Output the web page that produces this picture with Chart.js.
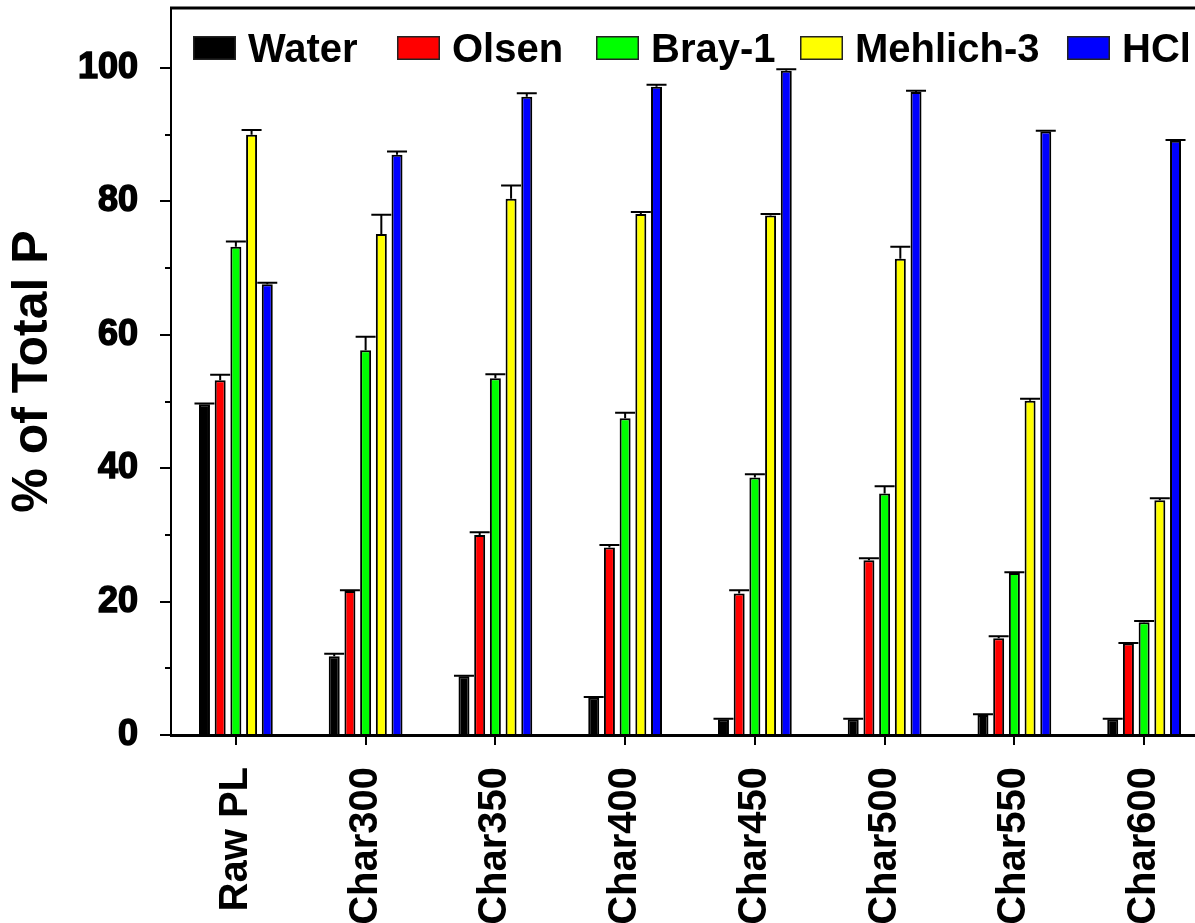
<!DOCTYPE html>
<html>
<head>
<meta charset="utf-8">
<script src="https://cdn.jsdelivr.net/npm/chart.js@4/dist/chart.umd.min.js"></script>
<style>
  html, body { margin: 0; padding: 0; background: #fff; overflow: hidden; }
  #wrap { width: 1195px; height: 923px; overflow: hidden; position: relative; }
  canvas { display: block; }
</style>
</head>
<body>
<div id="wrap"><canvas id="chart" width="1209" height="923"></canvas></div>
<script>
// Phosphorus extracted by each method, as % of total P, per material
const categories = ['Raw PL', 'Char300', 'Char350', 'Char400', 'Char450', 'Char500', 'Char550', 'Char600'];

const waterP      = [49.6, 11.8,  8.8,  5.6,  2.35, 2.35,  3.0,  2.35];
const waterErr    = [ 0.1,  0.4,  0.1,  0.1,  0.1,  0.1,   0.1,  0.1];
const olsenP      = [53.2, 21.6, 30.0, 28.1, 21.2, 26.2,  14.5, 13.7];
const olsenErr    = [ 0.8,  0.1,  0.4,  0.4,  0.5,  0.3,   0.3,  0.1];
const brayP       = [73.2, 57.7, 53.5, 47.5, 38.6, 36.2,  24.3, 16.9];
const brayErr     = [ 0.8,  2.0,  0.6,  0.8,  0.5,  1.1,   0.1,  0.2];
const mehlichP    = [90.0, 75.1, 80.4, 78.1, 77.9, 71.4,  50.1, 35.2];
const mehlichErr  = [ 0.7,  2.9,  2.0,  0.3,  0.2,  1.8,   0.3,  0.3];
const hclP        = [67.6, 87.0, 95.7, 97.2, 99.6, 96.4,  90.5, 89.1];
const hclErr      = [ 0.2,  0.5,  0.5,  0.3,  0.2,  0.2,   0.1,  0.1];

const seriesNames  = ['Water', 'Olsen', 'Bray-1', 'Mehlich-3', 'HCl'];
const seriesColors = ['#000000', '#FF0000', '#00FF00', '#FFFF00', '#0000FF'];
const seriesValues = [waterP, olsenP, brayP, mehlichP, hclP];
const seriesErrors = [waterErr, olsenErr, brayErr, mehlichErr, hclErr];

const yTickValues = [0, 20, 40, 60, 80, 100];
const yMinorTicks = [10, 30, 50, 70, 90];

// legend swatch left edges along the top row
const legendBoxX = [193, 397, 596, 800, 1067];

const FONT = "'Liberation Sans', Arial, Helvetica, sans-serif";

// Upward-only error bars with caps, drawn on top of each bar
const errorBarPlugin = {
  id: 'errorBars',
  afterDatasetsDraw(chart) {
    const ctx = chart.ctx;
    const yScale = chart.scales.y;
    ctx.save();
    ctx.strokeStyle = '#000';
    ctx.lineWidth = 2;
    chart.data.datasets.forEach((ds, i) => {
      const meta = chart.getDatasetMeta(i);
      meta.data.forEach((bar, j) => {
        const v = ds.data[j];
        const e = ds.errors[j];
        const yTop = yScale.getPixelForValue(v);
        const yCap = yScale.getPixelForValue(v + e);
        ctx.beginPath();
        ctx.moveTo(bar.x, yTop);
        ctx.lineTo(bar.x, yCap);
        ctx.moveTo(bar.x - 10, yCap);
        ctx.lineTo(bar.x + 10, yCap);
        ctx.stroke();
      });
    });
    ctx.restore();
  }
};

// Top frame line, minor y ticks and the legend row inside the plot
const framePlugin = {
  id: 'frame',
  afterDraw(chart) {
    const ctx = chart.ctx;
    const a = chart.chartArea;
    const yScale = chart.scales.y;
    ctx.save();
    ctx.strokeStyle = '#000';
    ctx.lineWidth = 3;
    ctx.beginPath();
    ctx.moveTo(a.left - 1, a.top);
    ctx.lineTo(chart.width, a.top);
    ctx.stroke();

    ctx.lineWidth = 2;
    yMinorTicks.forEach(v => {
      const y = Math.round(yScale.getPixelForValue(v));
      ctx.beginPath();
      ctx.moveTo(a.left - 6, y);
      ctx.lineTo(a.left, y);
      ctx.stroke();
    });

    // legend
    ctx.font = 'bold 40px ' + FONT;
    ctx.textBaseline = 'alphabetic';
    ctx.textAlign = 'left';
    const boxW = 43, boxH = 24, boxTop = 36, textGap = 12;
    chart.data.datasets.forEach((ds, i) => {
      const x = legendBoxX[i];
      ctx.fillStyle = ds.backgroundColor;
      ctx.fillRect(x, boxTop, boxW, boxH);
      ctx.lineWidth = 1.5;
      ctx.strokeStyle = '#222';
      ctx.strokeRect(x + 0.75, boxTop + 0.75, boxW - 1.5, boxH - 1.5);
      ctx.fillStyle = '#000';
      ctx.fillText(ds.label, x + boxW + textGap, 62);
    });
    ctx.restore();
  }
};

const datasets = seriesNames.map((name, i) => ({
  label: name,
  data: seriesValues[i],
  errors: seriesErrors[i],
  backgroundColor: seriesColors[i],
  borderColor: '#000',
  borderWidth: 2,
  categoryPercentage: 0.605,
  barPercentage: 0.70
}));

new Chart(document.getElementById('chart'), {
  type: 'bar',
  data: { labels: categories, datasets },
  plugins: [errorBarPlugin, framePlugin],
  options: {
    responsive: false,
    animation: false,
    layout: { padding: { top: 8, left: 0, right: 0, bottom: 0 } },
    plugins: { legend: { display: false }, tooltip: { enabled: false } },
    scales: {
      x: {
        offset: true,
        grid: { display: true, drawOnChartArea: false, drawTicks: true, tickLength: 10, color: '#000', lineWidth: 2, offset: false },
        border: { display: true, color: '#000', width: 3 },
        ticks: {
          autoSkip: false, maxRotation: 90, minRotation: 90, padding: 22,
          color: '#000', font: { family: FONT, size: 40, weight: 'bold' }
        },
        afterFit(s) { s.height = 188; s.paddingLeft = 0; s.paddingRight = 0; }
      },
      y: {
        min: 0, max: 109,
        afterBuildTicks(s) { s.ticks = yTickValues.map(v => ({ value: v })); },
        ticks: {
          padding: 22, color: '#000',
          font: { family: FONT, size: 36, weight: 'bold' },
          textStrokeColor: '#000', textStrokeWidth: 1.5
        },
        grid: { display: true, drawOnChartArea: false, drawTicks: true, tickLength: 11, color: '#000', lineWidth: 2 },
        border: { display: true, color: '#000', width: 2 },
        title: {
          display: true, text: '% of Total P', color: '#000',
          font: { family: FONT, size: 50, weight: 'bold' },
          padding: { top: 3, bottom: 0 }
        },
        afterFit(s) { s.width = 171; s.paddingTop = 0; s.paddingBottom = 0; }
      }
    }
  }
});
</script>
</body>
</html>
